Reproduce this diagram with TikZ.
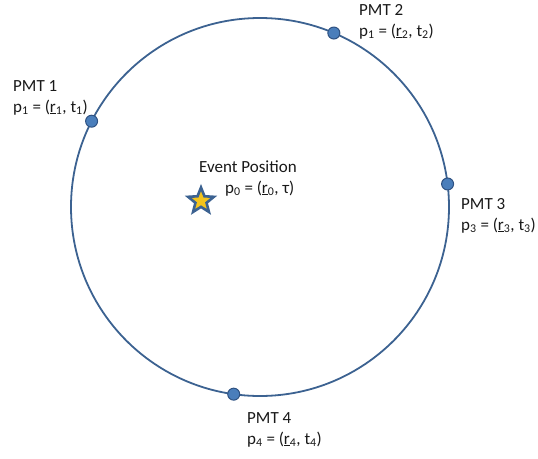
\documentclass[tikz,border=0pt]{standalone}
\usepackage{fontspec}
\setmainfont{Carlito}
\usepackage{tikz}
\usetikzlibrary{shapes.geometric, calc, positioning}
\definecolor{ringcol}{RGB}{60,98,145}
\definecolor{pmtcol}{RGB}{74,126,187}
\definecolor{pmtedge}{RGB}{47,82,130}
\definecolor{starcol}{RGB}{244,196,28}
\definecolor{textcol}{RGB}{25,25,25}

\begin{document}
\begin{tikzpicture}[x=1pt, y=-1pt, font=\fontsize{17}{21}\selectfont,
  pmt/.style={circle, draw=pmtedge, fill=pmtcol, line width=1pt,
              minimum size=12pt, inner sep=0pt},
  lbl/.style={anchor=base west, inner sep=0pt, text=textcol}]
  \useasboundingbox (0,0) rectangle (538,458);
  \coordinate (ctr) at (260,207);
  \draw[ringcol, line width=1.8pt] (ctr) circle[radius=189];

  % photomultipliers on the ring
  \foreach \n/\ang in {1/-153, 2/-67, 3/-7, 4/98}
    \node[pmt] (pmt\n) at ($(ctr)+(\ang:189)$) {};

  % event
  \node[star, star points=5, star point ratio=2.3, minimum size=27pt,
        inner sep=0pt, draw=ringcol, line width=2.6pt, fill=starcol]
    (event) at (201,201) {};

  \node[lbl] (evtxt) at (199,172) {Event Position};
  \node[lbl] (evpos) at (225,193) {p\textsubscript{0} = (\underline{r}\textsubscript{0}, τ)};

  \node[lbl] (lab1) at (13,91) {PMT 1};
  \node[lbl] (lab1p) at (13,112) {p\textsubscript{1} = (\underline{r}\textsubscript{1}, t\textsubscript{1})};
  \node[lbl] (lab2) at (359,15) {PMT 2};
  \node[lbl] (lab2p) at (359,36) {p\textsubscript{1} = (\underline{r}\textsubscript{2}, t\textsubscript{2})};
  \node[lbl] (lab3) at (461,209) {PMT 3};
  \node[lbl] (lab3p) at (461,230) {p\textsubscript{3} = (\underline{r}\textsubscript{3}, t\textsubscript{3})};
  \node[lbl] (lab4) at (247,423) {PMT 4};
  \node[lbl] (lab4p) at (247,444) {p\textsubscript{4} = (\underline{r}\textsubscript{4}, t\textsubscript{4})};
\end{tikzpicture}
\end{document}
